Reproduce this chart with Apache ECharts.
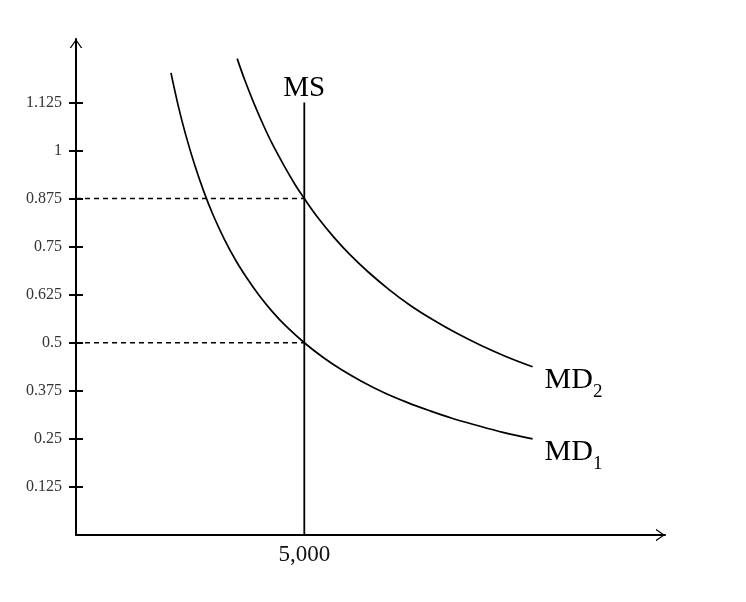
<!DOCTYPE html>
<html lang="en">
<head>
	<meta charset="UTF-8">
	<title>Money market</title>
	<script src="https://cdn.jsdelivr.net/npm/echarts@6/dist/echarts.min.js"></script>
	<style type="text/css">
		html, body { margin: 0; padding: 0; background: #fff; }
		#main { width: 746px; height: 602px; }
	</style>
</head>
<body>
	<div id="main"></div>
	<script type="text/javascript">
		// values
		var yTicks = [0.125, 0.25, 0.375, 0.5, 0.625, 0.75, 0.875, 1, 1.125];
		var xTicks = [5000];

		var md1X = [2080, 2250, 2400, 2600, 2800, 3000, 3250, 3500, 3750, 4000, 4300, 4600, 5000,
			5400, 5800, 6250, 6750, 7250, 7750, 8250, 8750, 9350, 10000];
		var md1Y = [1.202, 1.111, 1.042, 0.962, 0.893, 0.833, 0.769, 0.714, 0.667, 0.625, 0.581, 0.543, 0.5,
			0.463, 0.431, 0.4, 0.37, 0.345, 0.323, 0.303, 0.286, 0.267, 0.25];

		var md2X = [3530, 3700, 3900, 4100, 4300, 4550, 4800, 5000, 5300, 5650, 6000, 6400, 6850,
			7300, 7800, 8300, 8850, 9400, 10000];
		var md2Y = [1.239, 1.182, 1.122, 1.067, 1.017, 0.962, 0.911, 0.875, 0.825, 0.774, 0.729, 0.684, 0.639,
			0.599, 0.561, 0.527, 0.494, 0.465, 0.4375];

		var msX = 5000;
		var msTop = 1.125;
		var eqY = [0.875, 0.5];

		var FONT = 'Liberation Serif';
		var ARROW = 'path://M0,10 L7,0 L14,10 L12.4,10 L7,2.2 L1.6,10 Z';

		var subRich = {
			m: { fontFamily: FONT, fontSize: 30, color: '#000', lineHeight: 30, verticalAlign: 'bottom', padding: [0, 0, 7, 0] },
			s: { fontFamily: FONT, fontSize: 19, color: '#000', lineHeight: 18, verticalAlign: 'bottom' }
		};

		function pairs(xs, ys, labelText) {
			var out = [];
			for (var i = 0; i < xs.length; i++) {
				var item = { value: [xs[i], ys[i]] };
				if (i === xs.length - 1 && labelText) {
					item.label = {
						show: true,
						position: 'right',
						distance: 12,
						offset: [0, 20],
						formatter: labelText,
						rich: subRich
					};
				}
				out.push(item);
			}
			return out;
		}

		function curve(name, data) {
			return {
				name: name,
				type: 'line',
				smooth: 0.4,
				symbol: 'circle',
				symbolSize: 0,
				showSymbol: true,
				lineStyle: { color: '#000', width: 1.7 },
				itemStyle: { color: '#000' },
				label: { show: false },
				data: data,
				z: 3
			};
		}

		function dashed(y) {
			return {
				type: 'line',
				symbol: 'none',
				lineStyle: { color: '#000', width: 1.4, type: [5, 4] },
				data: [[0, y], [msX, y]],
				z: 2
			};
		}

		var chart = echarts.init(document.getElementById('main'));

		var series = [
			curve('MD1', pairs(md1X, md1Y, '{m|MD}{s|1}')),
			curve('MD2', pairs(md2X, md2Y, '{m|MD}{s|2}')),
			{
				name: 'MS',
				type: 'line',
				symbol: 'circle',
				symbolSize: 0,
				lineStyle: { color: '#000', width: 1.8 },
				itemStyle: { color: '#000' },
				data: [
					{ value: [msX, 0] },
					{ value: [msX, msTop], label: {
						show: true, position: 'top', distance: 0, formatter: 'MS',
						fontFamily: FONT, fontSize: 29, color: '#000'
					} }
				],
				z: 3
			}
		];
		for (var i = 0; i < eqY.length; i++) series.push(dashed(eqY[i]));

		var option = {
			animation: false,
			backgroundColor: '#fff',
			grid: { left: 76, right: 81, top: 39, bottom: 67 },
			xAxis: {
				type: 'value',
				min: 0,
				max: 12900,
				splitLine: { show: false },
				axisLine: {
					show: true,
					lineStyle: { color: '#000', width: 2 },
					symbol: ['none', ARROW],
					symbolSize: [14, 9],
					symbolOffset: [0, -4.5]
				},
				axisTick: { show: false },
				axisLabel: {
					customValues: xTicks,
					margin: 8,
					fontFamily: FONT,
					fontSize: 23,
					color: '#111',
					formatter: function (v) { return v.toLocaleString('en-US'); }
				}
			},
			yAxis: [{
				type: 'value',
				position: 'left',
				min: 0,
				max: 1.29,
				interval: 0.125,
				splitLine: { show: false },
				axisLine: {
					show: true,
					lineStyle: { color: '#000', width: 2 },
					symbol: ['none', ARROW],
					symbolSize: [14, 9],
					symbolOffset: [0, -4.5]
				},
				axisTick: {
					show: true,
					customValues: yTicks,
					length: 7,
					lineStyle: { color: '#000', width: 2 }
				},
				axisLabel: {
					customValues: yTicks,
					margin: 14,
					fontFamily: FONT,
					fontSize: 16,
					color: '#333'
				}
			}, {
				type: 'value',
				position: 'left',
				offset: 0,
				min: 0,
				max: 1.29,
				interval: 0.125,
				splitLine: { show: false },
				axisLine: { show: false },
				axisTick: {
					show: true,
					inside: true,
					customValues: yTicks,
					length: 7,
					lineStyle: { color: '#000', width: 2 }
				},
				axisLabel: { show: false }
			}],
			series: series
		};

		chart.setOption(option);
	</script>
</body>
</html>
